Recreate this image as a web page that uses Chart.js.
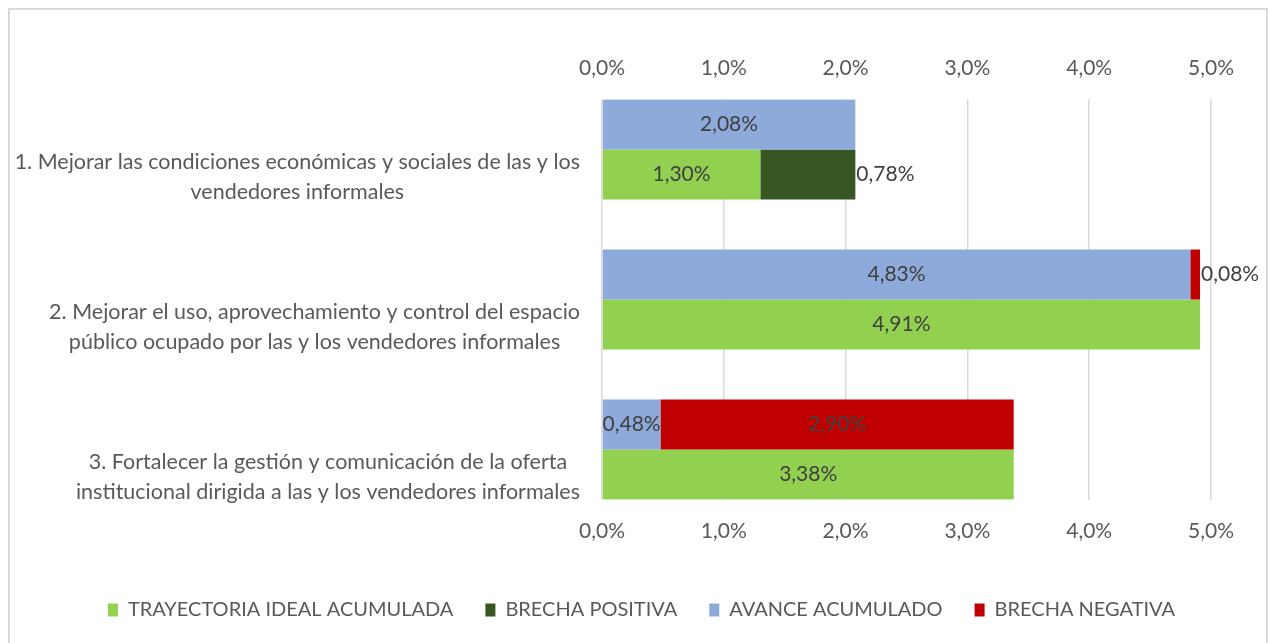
<!DOCTYPE html>
<html>
<head>
<meta charset="utf-8">
<script src="https://cdn.jsdelivr.net/npm/chart.js@4"></script>
<style>
  html, body { margin: 0; padding: 0; background: #fff; }
  #wrap { width: 1269px; height: 643px; }
</style>
</head>
<body>
<div id="wrap"><canvas id="chart"></canvas></div>
<script>
const categories = [
  ['1. Mejorar las condiciones económicas y sociales de las y los', 'vendedores informales'],
  ['2. Mejorar el uso, aprovechamiento y control del espacio', 'público ocupado por las y los vendedores informales'],
  ['3. Fortalecer la gestión y comunicación de la oferta', 'institucional dirigida a las y los vendedores informales'],
];
// values in percent
const avanceAcumulado = [2.08, 4.83, 0.48];
const brechaNegativa = [null, 0.08, 2.90];
const trayectoriaIdeal = [1.30, 4.91, 3.38];
const brechaPositiva = [0.78, null, null];
const xTickValues = [0, 1, 2, 3, 4, 5];

const FONT = 'Lato';
const textGray = '#595959';
const legendOrder = ['TRAYECTORIA IDEAL ACUMULADA', 'BRECHA POSITIVA', 'AVANCE ACUMULADO', 'BRECHA NEGATIVA'];

const fmtTick = v => v.toFixed(1).replace('.', ',') + '%';
const fmtVal = v => v.toFixed(2).replace('.', ',') + '%';

// white background + light frame round the chart
const frame = {
  id: 'frame',
  beforeDraw(chart) {
    const ctx = chart.ctx;
    ctx.save();
    ctx.fillStyle = '#fff';
    ctx.fillRect(0, 0, chart.width, chart.height);
    ctx.strokeStyle = '#d9d9d9';
    ctx.lineWidth = 2;
    ctx.strokeRect(9, 9, 1258, 700);
    ctx.restore();
  }
};

// category names: block right-aligned to the plot, lines centred inside block
const catLabels = {
  id: 'catLabels',
  afterDraw(chart) {
    const ctx = chart.ctx;
    const y = chart.scales.y;
    ctx.save();
    ctx.font = '21.5px ' + FONT;
    ctx.fillStyle = textGray;
    ctx.textAlign = 'center';
    ctx.textBaseline = 'middle';
    categories.forEach((lines, i) => {
      const w = Math.max(...lines.map(l => ctx.measureText(l).width));
      const cx = chart.chartArea.left - 22 - w / 2;
      const cy = y.getPixelForValue(i) + 28;
      lines.forEach((l, j) => ctx.fillText(l, cx, cy + (j - (lines.length - 1) / 2) * 30));
    });
    ctx.restore();
  }
};

// value labels on the bars
const valueLabels = {
  id: 'valueLabels',
  afterDatasetsDraw(chart) {
    const ctx = chart.ctx;
    ctx.save();
    ctx.font = '21px ' + FONT;
    ctx.fillStyle = '#404040';
    ctx.textBaseline = 'middle';
    chart.data.datasets.forEach((ds, di) => {
      chart.getDatasetMeta(di).data.forEach((bar, i) => {
        const v = ds.data[i];
        if (v == null) return;
        const txt = fmtVal(v);
        const tw = ctx.measureText(txt).width;
        const width = Math.abs(bar.x - bar.base);
        if (ds.labelOutside || width < tw / 2) {
          ctx.textAlign = 'left';
          ctx.fillText(txt, bar.x + 1, bar.y);
        } else {
          ctx.textAlign = 'center';
          ctx.fillText(txt, (bar.x + bar.base) / 2, bar.y);
        }
      });
    });
    ctx.restore();
  }
};

const tickOpts = {
  color: textGray,
  font: {family: FONT, size: 21},
  padding: 18,
  callback: v => fmtTick(v),
};

new Chart(document.getElementById('chart'), {
  type: 'bar',
  data: {
    // linear index axis so the bar groups sit flush with the plot edges, as in the original
    labels: categories.map((c, i) => i),
    datasets: [
      {label: 'AVANCE ACUMULADO', data: avanceAcumulado, backgroundColor: '#8eaadb', stack: 'real'},
      {label: 'BRECHA NEGATIVA', data: brechaNegativa, backgroundColor: '#c00000', stack: 'real'},
      {label: 'TRAYECTORIA IDEAL ACUMULADA', data: trayectoriaIdeal, backgroundColor: '#92d050', stack: 'ideal'},
      {label: 'BRECHA POSITIVA', data: brechaPositiva, backgroundColor: '#375623', stack: 'ideal', labelOutside: true},
    ]
  },
  options: {
    indexAxis: 'y',
    responsive: true,
    maintainAspectRatio: false,
    animation: false,
    categoryPercentage: 0.667,
    barPercentage: 1.0,
    layout: {padding: {left: 72, right: 58, top: 38, bottom: 13}},
    scales: {
      x: {
        type: 'linear',
        position: 'bottom',
        stacked: true,
        min: 0,
        max: 5,
        afterBuildTicks: s => { s.ticks = xTickValues.map(v => ({value: v})); },
        ticks: {...tickOpts, padding: 19},
        grid: {color: '#d9d9d9', lineWidth: 1.5, drawTicks: false},
        border: {display: false},
        afterFit: s => { s.height += 5; },
      },
      x2: {
        type: 'linear',
        position: 'top',
        min: 0,
        max: 5,
        afterBuildTicks: s => { s.ticks = xTickValues.map(v => ({value: v})); },
        ticks: tickOpts,
        grid: {display: false, drawTicks: false},
        border: {display: false},
      },
      y: {
        type: 'linear',
        reverse: true,
        stacked: true,
        offset: false,
        min: -0.335,
        max: 2.335,
        afterBuildTicks: s => { s.ticks = categories.map((c, i) => ({value: i})); },
        ticks: {display: false},
        grid: {display: false, drawTicks: false, offset: false},
        border: {display: false},
        afterFit: s => { s.width = 530; },
      }
    },
    plugins: {
      tooltip: {enabled: false},
      legend: {
        position: 'bottom',
        labels: {
          color: textGray,
          font: {family: FONT, size: 20},
          boxWidth: 10,
          boxHeight: 13,
          padding: 32,
          sort: (a, b) => legendOrder.indexOf(a.text) - legendOrder.indexOf(b.text),
        }
      }
    }
  },
  plugins: [frame, catLabels, valueLabels]
});
</script>
</body>
</html>
